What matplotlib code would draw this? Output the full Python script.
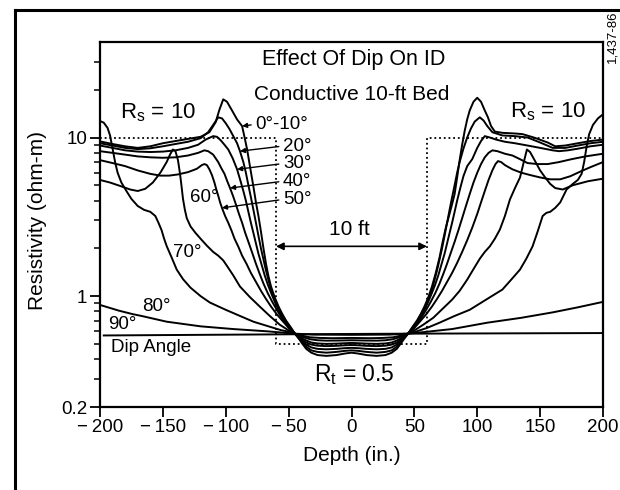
import matplotlib
matplotlib.use('Agg')
import matplotlib.pyplot as plt
from matplotlib.lines import Line2D
from matplotlib.ticker import FixedLocator, NullFormatter

plt.rcParams['font.family'] = ['Liberation Sans', 'DejaVu Sans']

# depth (in.) and apparent ID resistivity (ohm-m) for each dip angle
x_0_10 = [-200, -190, -180, -170, -160, -150, -140, -130, -120, -113, -108, -105, -102, -99, -95, -91, -87,
          -85, -83, -80.5, -78, -76, -74, -72, -70, -68, -66, -64, -61, -58, -55, -52, -48.5, -45,
          -42, -39, -36, -32, -27, -20, -12, -5, 0, 5, 12, 20, 27, 32, 36, 39, 42, 45,
          48.5, 52, 55, 58, 61, 64, 67, 70, 72.5, 75, 77.5, 80, 82, 84, 86, 88, 90, 92, 94, 97, 100,
          103, 106, 108.5, 111, 114, 120, 130, 136, 145, 156, 162, 170, 180, 190, 200]
r_0_10 = [9.45, 9.1, 8.8, 8.6, 8.8, 9.2, 9.5, 9.8, 10.1, 10.8, 12.5, 15.0, 17.4, 16.8, 14.8, 13.0, 11.8,
          10.0, 8.4, 6.4, 4.9, 3.9, 3.2, 2.55, 2.0, 1.6, 1.33, 1.15, 0.98, 0.86, 0.77, 0.7, 0.64, 0.58,
          0.54, 0.5, 0.465, 0.44, 0.425, 0.42, 0.425, 0.435, 0.44, 0.435, 0.425, 0.42, 0.425, 0.44, 0.465, 0.5, 0.54, 0.58,
          0.64, 0.7, 0.77, 0.86, 0.98, 1.15, 1.4, 1.75, 2.2, 2.7, 3.2, 3.8, 4.4, 5.6, 7.2, 9.0, 11.0, 13.0, 14.8, 16.8, 17.8,
          16.8, 14.8, 13.4, 11.8, 10.9, 10.7, 10.6, 10.5, 10.0, 9.3, 8.8, 8.9, 9.2, 9.5, 9.7]

x_20 = [-200, -190, -180, -170, -160, -150, -140, -130, -120, -114, -110, -106, -103, -100, -97, -94, -91, -88.7,
        -86, -84, -82, -80, -78, -76, -74, -72, -70, -68, -66, -64, -61, -58, -55, -52, -48.5, -45,
        -42, -39, -36, -32, -27, -20, -12, -5, 0, 5, 12, 20, 27, 32, 36, 39, 42, 45,
        48.5, 52, 55, 58, 61, 64, 66, 68, 70, 72, 74, 76, 78, 80, 82, 84, 86, 89, 92, 95, 98, 102,
        105, 108, 112, 120, 130, 140, 150, 160, 170, 180, 190, 200]
r_20 = [9.2, 8.9, 8.6, 8.45, 8.55, 8.8, 9.1, 9.4, 9.9, 10.8, 12.0, 13.4, 13.2, 12.3, 11.3, 10.2, 9.2, 8.2,
        7.0, 6.0, 5.0, 4.2, 3.5, 2.9, 2.4, 2.0, 1.7, 1.45, 1.26, 1.1, 0.95, 0.84, 0.76, 0.69, 0.63, 0.58,
        0.545, 0.51, 0.48, 0.455, 0.445, 0.44, 0.445, 0.452, 0.455, 0.452, 0.445, 0.44, 0.445, 0.455, 0.48, 0.51, 0.545, 0.58,
        0.63, 0.69, 0.76, 0.84, 0.95, 1.1, 1.26, 1.45, 1.7, 2.0, 2.4, 2.9, 3.5, 4.2, 5.0, 6.0, 7.0, 8.5, 10.0, 11.4, 12.6, 13.4,
        12.8, 11.8, 10.8, 10.3, 10.2, 10.0, 9.3, 8.6, 8.6, 8.9, 9.2, 9.4]

x_30 = [-200, -190, -180, -170, -160, -150, -140, -130, -122, -116, -110, -107, -104, -101, -98, -94.5, -91,
        -88.5, -86, -84, -82, -80, -78, -76, -74, -71.5, -69, -66.5, -64, -61, -58, -55, -52, -48.5, -45,
        -42, -39, -36, -32, -27, -20, -12, -5, 0, 5, 12, 20, 27, 32, 36, 39, 42, 45,
        48.5, 52, 55, 58, 61, 64, 66.5, 69, 71.5, 74, 76, 78, 80, 82, 84, 86.5, 89, 92, 96, 100, 103, 106,
        110, 115, 122, 130, 140, 150, 160, 165, 172, 180, 190, 200]
r_30 = [8.9, 8.6, 8.3, 8.15, 8.1, 8.15, 8.3, 8.6, 9.0, 9.7, 10.2, 10.1, 9.6, 9.0, 8.4, 7.4, 6.3,
        5.4, 4.6, 4.0, 3.4, 2.9, 2.5, 2.15, 1.85, 1.58, 1.35, 1.18, 1.05, 0.92, 0.82, 0.74, 0.68, 0.63, 0.58,
        0.55, 0.52, 0.495, 0.475, 0.465, 0.462, 0.465, 0.47, 0.472, 0.47, 0.465, 0.462, 0.465, 0.475, 0.495, 0.52, 0.55, 0.58,
        0.63, 0.68, 0.74, 0.82, 0.92, 1.05, 1.18, 1.35, 1.58, 1.85, 2.15, 2.5, 2.9, 3.4, 4.0, 4.8, 5.7, 6.6, 7.3, 8.6, 9.5, 10.2,
        10.0, 9.7, 9.4, 9.2, 8.9, 8.6, 8.3, 8.2, 8.3, 8.5, 8.8, 9.0]

x_40 = [-200, -190, -180, -170, -160, -150, -140, -130, -122, -117, -114, -110, -106, -103.5, -101, -98.8, -96.6,
        -94.3, -92, -89.5, -87, -84.5, -82, -79, -76, -73, -70, -66.5, -63, -59, -55, -50, -45,
        -42, -39, -36, -32, -27, -20, -12, -5, 0, 5, 12, 20, 27, 32, 36, 39, 42, 45,
        50, 55, 59, 63, 66.5, 70, 73, 76, 79, 82, 85, 88, 91, 94, 97, 100, 103, 106, 109, 112,
        116, 122, 128, 134, 140, 148, 156, 165, 175, 186, 200]
r_40 = [8.2, 8.0, 7.8, 7.6, 7.5, 7.45, 7.5, 7.7, 8.0, 8.3, 8.2, 7.8, 7.0, 6.4, 5.9, 5.3, 4.8,
        4.3, 3.8, 3.3, 2.9, 2.5, 2.2, 1.88, 1.6, 1.38, 1.2, 1.04, 0.92, 0.81, 0.72, 0.64, 0.58,
        0.555, 0.53, 0.51, 0.495, 0.487, 0.484, 0.486, 0.49, 0.492, 0.49, 0.486, 0.484, 0.487, 0.495, 0.51, 0.53, 0.555, 0.58,
        0.64, 0.72, 0.81, 0.92, 1.04, 1.2, 1.38, 1.6, 1.88, 2.2, 2.6, 3.1, 3.7, 4.4, 5.2, 6.0, 6.8, 7.5, 8.0, 8.3,
        8.2, 7.9, 7.7, 7.3, 6.9, 6.8, 6.8, 7.0, 7.3, 7.6, 7.9]

x_50 = [-200, -190, -180, -170, -160, -152, -145, -138, -130, -123, -119, -117, -115, -113, -111, -109, -107.5,
        -106, -104.5, -103, -100.5, -98, -95.5, -93, -90, -87, -83.5, -80, -76, -72, -68, -64, -59.5, -55, -50, -45,
        -42, -39, -36, -32, -27, -20, -12, 0, 12, 20, 27, 32, 36, 39, 42, 45,
        50, 55, 59.5, 64, 68, 72, 76, 80, 84, 88, 92, 96, 100, 103, 106, 109, 112, 114.5, 116.5,
        119, 122, 128, 135, 142, 150, 158, 166, 174, 182, 190, 200]
r_50 = [7.2, 6.9, 6.6, 6.2, 5.9, 5.75, 5.75, 5.85, 6.05, 6.35, 6.7, 6.8, 6.7, 6.3, 5.8, 5.2, 4.7,
        4.3, 3.9, 3.6, 3.2, 2.9, 2.6, 2.3, 2.05, 1.8, 1.6, 1.4, 1.23, 1.08, 0.96, 0.86, 0.77, 0.7, 0.63, 0.58,
        0.56, 0.54, 0.525, 0.51, 0.503, 0.5, 0.502, 0.507, 0.502, 0.5, 0.503, 0.51, 0.525, 0.54, 0.56, 0.58,
        0.63, 0.7, 0.77, 0.86, 0.96, 1.08, 1.23, 1.4, 1.62, 1.9, 2.25, 2.7, 3.3, 3.9, 4.6, 5.4, 6.2, 6.8, 7.1,
        7.0, 6.7, 6.3, 6.0, 5.8, 5.6, 5.45, 5.45, 5.7, 6.1, 6.5, 7.0]

x_60 = [-200, -192, -184, -176, -170, -164, -158, -152, -147, -144, -142, -140, -138, -136.5, -135.5, -134,
        -132.5, -131, -128, -124, -120, -115, -110, -106, -102, -99, -94, -88.7, -81, -73, -65, -57, -51, -45,
        -42, -38, -33, -27, -20, -10, 0, 10, 20, 27, 33, 38, 42, 45,
        51, 57, 65, 73, 80, 86, 92, 97, 102, 106, 110, 114, 118, 122, 126, 130, 134, 137, 139.5,
        142, 146, 150, 154, 158, 162, 168, 176, 188, 200]
r_60 = [5.4, 5.2, 4.95, 4.7, 4.6, 4.75, 5.2, 6.0, 7.0, 7.9, 8.4, 8.2, 7.2, 6.0, 5.2, 4.1,
        3.5, 3.1, 2.75, 2.5, 2.3, 2.08, 1.9, 1.8, 1.68, 1.55, 1.35, 1.15, 0.99, 0.86, 0.75, 0.66, 0.615, 0.58,
        0.565, 0.55, 0.535, 0.527, 0.524, 0.525, 0.527, 0.525, 0.524, 0.527, 0.535, 0.55, 0.565, 0.58,
        0.615, 0.66, 0.73, 0.84, 0.95, 1.08, 1.27, 1.48, 1.72, 1.9, 2.06, 2.3, 2.63, 3.2, 4.07, 4.8, 5.6, 7.0, 8.4,
        8.1, 7.1, 6.2, 5.6, 5.1, 4.8, 4.7, 5.0, 5.3, 5.5]

x_70 = [-200, -197, -194, -192, -190, -188, -186, -183, -179, -175, -170, -165, -160, -156, -153.5, -151,
        -149, -147, -143, -139, -134, -128, -120, -112.5, -100, -88.7, -78, -67.4, -56, -51.5, -45,
        -40, -33, -25, -15, 0, 15, 25, 33, 40, 45,
        52, 60, 70, 82, 94, 107, 120, 127, 134, 139, 144, 148, 152, 155, 158, 162, 166, 171, 176,
        180, 183, 185, 187, 189, 192, 196, 200]
r_70 = [12.7, 12.4, 11.5, 10.3, 8.5, 7.0, 6.0, 5.2, 4.6, 4.1, 3.7, 3.5, 3.4, 3.2, 2.9, 2.6,
        2.3, 2.07, 1.75, 1.47, 1.28, 1.13, 1.0, 0.91, 0.82, 0.75, 0.69, 0.65, 0.61, 0.6, 0.58,
        0.565, 0.55, 0.545, 0.543, 0.545, 0.543, 0.545, 0.55, 0.565, 0.58,
        0.6, 0.63, 0.68, 0.75, 0.82, 0.95, 1.1, 1.27, 1.47, 1.72, 2.06, 2.55, 3.2, 3.35, 3.4, 3.6, 3.9, 4.7, 5.1,
        5.4, 5.9, 7.0, 8.8, 10.5, 12.0, 13.2, 14.0]

x_80 = [-200, -185, -174, -167, -147, -120, -94, -67, -45, -30, 0, 30, 45, 54.5, 80, 108, 135, 160, 180, 200]
r_80 = [0.88, 0.81, 0.77, 0.75, 0.69, 0.645, 0.62, 0.6, 0.58, 0.572, 0.57, 0.572, 0.58, 0.59, 0.62, 0.68, 0.73,
        0.79, 0.85, 0.92]

x_90 = [-197, -45, 45, 200]
r_90 = [0.565, 0.575, 0.58, 0.585]

# true bed profile: Rs = 10 shoulders, Rt = 0.5 over the 10-ft bed
bed_x = [-200, -60, -60, 60, 60, 200]
bed_r = [10, 10, 0.5, 0.5, 10, 10]

dip_curves = [(x_0_10, r_0_10), (x_20, r_20), (x_30, r_30), (x_40, r_40), (x_50, r_50),
              (x_60, r_60), (x_70, r_70), (x_80, r_80), (x_90, r_90)]

fig = plt.figure(figsize=(6.2, 4.9), dpi=100)
ax = fig.add_axes([100 / 620, 1 - 407 / 490, 503 / 620, 365 / 490])

for xs, rs in dip_curves:
    ax.plot(xs, rs, color='black', lw=1.4, solid_joinstyle='round')

ax.plot(bed_x, bed_r, color='black', lw=1.3, ls=(0, (1, 1.6)))

ax.set_yscale('log')
ax.set_xlim(-200, 200)
ax.set_ylim(0.2, 40)

xt = [-200, -150, -100, -50, 0, 50, 100, 150, 200]
ax.xaxis.set_major_locator(FixedLocator(xt))
ax.set_xticklabels([('\u2212\u2009' + str(-v)) if v < 0 else str(v) for v in xt])
ax.yaxis.set_major_locator(FixedLocator([0.2, 1, 10]))
ax.set_yticklabels(['0.2', '1', '10'])
minor = [0.3, 0.4, 0.5, 0.6, 0.7, 0.8, 0.9, 2, 3, 4, 5, 6, 7, 8, 9, 20, 30]
ax.yaxis.set_minor_locator(FixedLocator(minor))
ax.yaxis.set_minor_formatter(NullFormatter())
ax.tick_params(axis='both', which='major', direction='out', length=7, width=1.3,
               labelsize=13.5, pad=2, colors='black')
ax.tick_params(axis='y', which='minor', direction='out', length=4, width=1.1)
for s in ax.spines.values():
    s.set_linewidth(1.6)

fs = 13.5
ax.text(2, 31, 'Effect Of Dip On ID', ha='center', va='center', fontsize=15.5)
ax.text(0, 18.7, 'Conductive 10-ft Bed', ha='center', va='center', fontsize=15)
ax.text(-154, 14.4, r'$\mathregular{R_s}$ = 10', ha='center', va='center', fontsize=16)
ax.text(156, 14.6, r'$\mathregular{R_s}$ = 10', ha='center', va='center', fontsize=16)
ax.text(2, 0.32, r'$\mathregular{R_t}$ = 0.5', ha='center', va='center', fontsize=16.5)

arrow = dict(arrowstyle='-|>', color='black', lw=1.0, mutation_scale=7,
             shrinkA=1, shrinkB=0, relpos=(0, 0.5))
ax.annotate('0\u00b0-10\u00b0', xy=(-87, 11.8), xytext=(-76.5, 12.1), ha='left', va='center',
            fontsize=fs, arrowprops=arrow)
ax.annotate('20\u00b0', xy=(-88.7, 8.2), xytext=(-54.5, 8.83), ha='left', va='center',
            fontsize=fs, arrowprops=arrow)
ax.annotate('30\u00b0', xy=(-91, 6.3), xytext=(-54.5, 6.85), ha='left', va='center',
            fontsize=fs, arrowprops=arrow)
ax.annotate('40\u00b0', xy=(-96.6, 4.8), xytext=(-54.5, 5.3), ha='left', va='center',
            fontsize=fs, arrowprops=arrow)
ax.annotate('50\u00b0', xy=(-103, 3.6), xytext=(-54.5, 4.07), ha='left', va='center',
            fontsize=fs, arrowprops=arrow)
ax.text(-117, 4.2, '60\u00b0', ha='center', va='center', fontsize=fs)
ax.text(-131, 1.89, '70\u00b0', ha='center', va='center', fontsize=fs)
ax.text(-155, 0.86, '80\u00b0', ha='center', va='center', fontsize=fs)
ax.text(-182, 0.66, '90\u00b0', ha='center', va='center', fontsize=fs)
ax.text(-191, 0.475, 'Dip Angle', ha='left', va='center', fontsize=fs)

# bed thickness marker
ax.annotate('', xy=(-60, 2.06), xytext=(60, 2.06),
            arrowprops=dict(arrowstyle='<|-|>', color='black', lw=1.2, mutation_scale=11,
                            shrinkA=0, shrinkB=0))
ax.text(-2, 2.64, '10 ft', ha='center', va='center', fontsize=15)

fig.text(38 / 620, 1 - 220 / 490, 'Resistivity (ohm-m)', rotation=90, ha='center', va='center',
         fontsize=15)
fig.text(352 / 620, 1 - 455 / 490, 'Depth (in.)', ha='center', va='center', fontsize=15)
fig.text(612 / 620, 1 - 37 / 490, '1,437-86', rotation=90, ha='center', va='center', fontsize=9.5)

# outer frame of the figure panel
fig.add_artist(Line2D([15 / 620, 1.0], [1 - 10 / 490, 1 - 10 / 490], color='black', lw=2.2,
                      transform=fig.transFigure))
fig.add_artist(Line2D([15 / 620, 15 / 620], [0, 1 - 10 / 490], color='black', lw=2.2,
                      transform=fig.transFigure))

fig.savefig('out.png', dpi=100)
